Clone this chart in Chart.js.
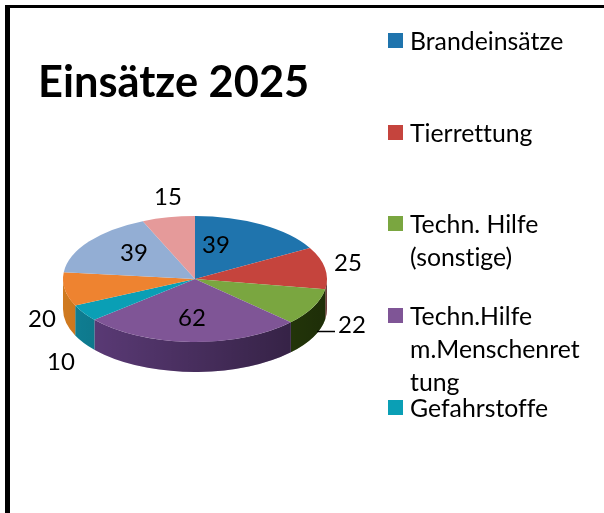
<!DOCTYPE html>
<html lang="de">
<head>
<meta charset="utf-8">
<title>Einsätze 2025</title>
<script src="https://cdn.jsdelivr.net/npm/chart.js@4"></script>
<style>
    html, body { margin: 0; padding: 0; background: #fff; overflow: hidden; }
    #page { position: relative; width: 604px; height: 513px; font-family: Lato, sans-serif; color: #000; overflow: hidden; }
    #frame { position: absolute; left: 5px; top: 5px; width: 620px; height: 540px; border-top: 3px solid #000; border-left: 5px solid #000; }
    #chart { position: absolute; left: 0; top: 0; }
    #title { position: absolute; left: 38px; top: 55px; margin: 0; font-size: 43.4px; line-height: 50px; font-weight: 700; white-space: nowrap; font-variant-ligatures: none; }
    .legend-item { position: absolute; left: 388px; width: 196px; padding-left: 22px; box-sizing: border-box; font-size: 24.8px; line-height: 33px; overflow-wrap: anywhere; font-variant-ligatures: none; }
    .legend-box { position: absolute; left: 0; top: 9px; width: 15px; height: 15px; }
</style>
</head>
<body>
<div id="page">
    <div id="frame"></div>
    <canvas id="chart" width="604" height="513"></canvas>
    <h1 id="title">Einsätze 2025</h1>
    <div id="legend"></div>
</div>
<script>
// ---------- 数据 ----------
const categories = ['Brandeinsätze', 'Tierrettung', 'Techn. Hilfe (sonstige)', 'Techn.Hilfe m.Menschenrettung', 'Gefahrstoffe', '', '', ''];
const values = [39, 25, 22, 62, 10, 20, 39, 15];

// ---------- 样式 ----------
const faceColors = ['#1f74ad', '#c5443d', '#7aa640', '#7f5596', '#0a9fb5', '#ee8330', '#93aed4', '#e59a9a'];
const wallColors = ['#145078', '#e08080', '#3c5c10', '#5f3d7c', '#0f8095', '#d07a20', '#6f88a8', '#b87070'];
const legendTops = [24, 116, 207, 299, 391];
const labelSpots = [[216, 245], [348, 263], [352, 325], [192, 318], [61, 362], [42, 319], [134, 253], [168, 197]];

const squash = 0.477;
const depth = 30;

// 立体饼图：侧壁 + 压扁
const pie3d = {
    id: 'pie3d',
    beforeDatasetsDraw(chart) {
        const ctx = chart.ctx;
        const arcs = chart.getDatasetMeta(0).data;
        ctx.save();
        arcs.forEach((arc, i) => {
            const { x, y, startAngle, endAngle, outerRadius } = arc.getProps(['x', 'y', 'startAngle', 'endAngle', 'outerRadius']);
            const a0 = Math.max(startAngle, 0);
            const a1 = Math.min(endAngle, Math.PI);
            if (a1 <= a0) return;
            const ry = outerRadius * squash;
            const shade = ctx.createLinearGradient(x - outerRadius, 0, x + outerRadius, 0);
            shade.addColorStop(0, 'rgba(0,0,0,0)');
            shade.addColorStop(1, 'rgba(0,0,0,0.5)');
            [wallColors[i], shade].forEach(fill => {
                ctx.beginPath();
                ctx.ellipse(x, y + depth, outerRadius, ry, 0, a0, a1);
                ctx.ellipse(x, y, outerRadius, ry, 0, a1, a0, true);
                ctx.closePath();
                ctx.fillStyle = fill;
                ctx.fill();
            });
        });
        ctx.restore();

        const cy = arcs[0].y;
        ctx.save();
        ctx.translate(0, cy);
        ctx.scale(1, squash);
        ctx.translate(0, -cy);
    },
    afterDatasetsDraw(chart) {
        const ctx = chart.ctx;
        ctx.restore();

        // 数值标签
        ctx.save();
        ctx.font = '24px Lato, sans-serif';
        ctx.fillStyle = '#000';
        ctx.textAlign = 'center';
        ctx.textBaseline = 'middle';
        values.forEach((v, i) => ctx.fillText(String(v), labelSpots[i][0], labelSpots[i][1]));
        // 22 的引导线
        ctx.strokeStyle = '#000';
        ctx.lineWidth = 1.5;
        ctx.beginPath();
        ctx.moveTo(317, 331.5);
        ctx.lineTo(335, 331.5);
        ctx.stroke();
        ctx.restore();
    }
};

new Chart(document.getElementById('chart'), {
    type: 'pie',
    data: {
        labels: categories,
        datasets: [{
            data: values,
            backgroundColor: faceColors,
            borderWidth: 0,
            hoverOffset: 0
        }]
    },
    options: {
        responsive: false,
        animation: false,
        layout: { padding: { left: 63, right: 277, top: 147, bottom: 102 } },
        plugins: {
            legend: { display: false },
            tooltip: { enabled: false }
        }
    },
    plugins: [pie3d]
});

// ---------- 图例 ----------
const legend = document.getElementById('legend');
categories.filter(Boolean).forEach((name, i) => {
    const item = document.createElement('div');
    item.className = 'legend-item';
    item.style.top = legendTops[i] + 'px';
    item.textContent = name;
    const box = document.createElement('span');
    box.className = 'legend-box';
    box.style.background = faceColors[i];
    item.appendChild(box);
    legend.appendChild(item);
});
</script>
</body>
</html>
